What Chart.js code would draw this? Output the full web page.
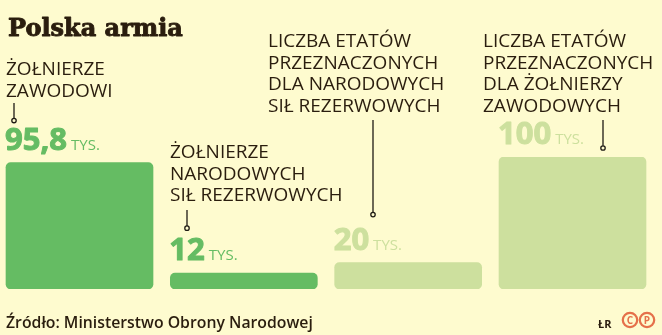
<!DOCTYPE html>
<html lang="pl">
<head>
<meta charset="utf-8">
<script src="https://cdn.jsdelivr.net/npm/chart.js@4"></script>
<style>
  html, body { margin: 0; padding: 0; background: #fefbcf; }
  #wrap { width: 662px; height: 335px; }
</style>
</head>
<body>
<div id="wrap"><canvas id="chart" width="662" height="335"></canvas></div>
<script>
const title = 'Polska armia';
const source = 'Źródło: Ministerstwo Obrony Narodowej';
const categories = [
  ['ŻOŁNIERZE', 'ZAWODOWI'],
  ['ŻOŁNIERZE', 'NARODOWYCH', 'SIŁ REZERWOWYCH'],
  ['LICZBA ETATÓW', 'PRZEZNACZONYCH', 'DLA NARODOWYCH', 'SIŁ REZERWOWYCH'],
  ['LICZBA ETATÓW', 'PRZEZNACZONYCH', 'DLA ŻOŁNIERZY', 'ZAWODOWYCH']
];
const values = [95.8, 12, 20, 100]; // w tys.
const unit = 'TYS.';

const BG = '#fefbcf';
const INK = '#2a1d0e';
const barColors = ['#65bc63', '#65bc63', '#cde09e', '#cde09e'];

// gdzie stoją podpisy (pierwsza linia, baseline) i kreski odnośników
const labelPos = [
  { x: 6, y: 75 },
  { x: 170, y: 158 },
  { x: 268, y: 47 },
  { x: 483, y: 47 }
];
const leaders = [
  { x: 14, top: 103, dot: -42 },
  { x: 187, top: 210, dot: -45 },
  { x: 373, top: 120, dot: -48 },
  { x: 603, top: 120, dot: -9 }
];

const fmt = v => String(v).replace('.', ',');

const bgPlugin = {
  id: 'bg',
  beforeDraw(chart) {
    const c = chart.ctx;
    c.save();
    c.fillStyle = BG;
    c.fillRect(0, 0, chart.width, chart.height);
    c.restore();
  }
};

const textPlugin = {
  id: 'texts',
  afterDraw(chart) {
    const c = chart.ctx;
    const bars = chart.getDatasetMeta(0).data;
    c.save();
    c.textBaseline = 'alphabetic';
    c.textAlign = 'left';
    c.lineJoin = 'round';

    // tytuł
    c.fillStyle = INK;
    c.strokeStyle = INK;
    c.lineWidth = 0.9;
    c.font = 'bold 24px "DejaVu Serif"';
    c.fillText(title, 8, 36);
    c.strokeText(title, 8, 36);

    // podpisy kategorii
    c.font = '19px "Open Sans"';
    categories.forEach((lines, i) => {
      lines.forEach((t, j) => c.fillText(t, labelPos[i].x, labelPos[i].y + j * 21.7));
    });

    bars.forEach((bar, i) => {
      const left = bar.x - bar.width / 2;
      const top = bar.y;

      // odnośnik
      const l = leaders[i];
      const dotY = top + l.dot;
      c.strokeStyle = '#1e1a14';
      c.lineWidth = 1.3;
      c.beginPath();
      c.moveTo(l.x, l.top);
      c.lineTo(l.x, dotY - 2.2);
      c.stroke();
      c.beginPath();
      c.arc(l.x, dotY, 2.2, 0, Math.PI * 2);
      c.fillStyle = BG;
      c.fill();
      c.stroke();

      // wartość
      const base = top - 13;
      c.fillStyle = barColors[i];
      c.strokeStyle = barColors[i];
      c.lineWidth = 1;
      c.font = 'bold 31px "Open Sans"';
      const s = fmt(values[i]);
      c.fillText(s, left - 1, base);
      c.strokeText(s, left - 1, base);
      const w = c.measureText(s).width;
      c.font = '15px "Open Sans"';
      c.fillText(unit, left - 1 + w + 4, base);
    });

    // źródło
    c.fillStyle = INK;
    c.font = '600 15.8px "Open Sans"';
    c.fillText(source, 6, 328);

    // ŁR i znaczki
    c.font = 'bold 11px "Open Sans"';
    c.fillText('ŁR', 598, 328);
    const orange = '#e5704a';
    [630, 647].forEach((cx, k) => {
      c.strokeStyle = orange;
      c.lineWidth = 2.2;
      c.beginPath();
      c.arc(cx, 320, 7.2, 0, Math.PI * 2);
      c.stroke();
      c.fillStyle = orange;
      c.font = 'bold 10px "Open Sans"';
      c.textAlign = 'center';
      c.fillText(k ? 'P' : 'C', cx, 324);
    });
    c.restore();
  }
};

new Chart(document.getElementById('chart'), {
  type: 'bar',
  data: {
    datasets: [{
      data: values.map((v, i) => ({ x: i, y: v })),
      backgroundColor: barColors,
      borderRadius: 5,
      borderSkipped: false,
      barThickness: 147
    }]
  },
  options: {
    responsive: false,
    animation: false,
    layout: { padding: { top: 157, bottom: 46, left: 0, right: 0 } },
    scales: {
      x: { type: 'linear', offset: false, min: -0.4838, max: 3.5446, display: false },
      y: { min: 0, max: 100, display: false }
    },
    plugins: {
      legend: { display: false },
      tooltip: { enabled: false }
    }
  },
  plugins: [bgPlugin, textPlugin]
});
</script>
</body>
</html>
